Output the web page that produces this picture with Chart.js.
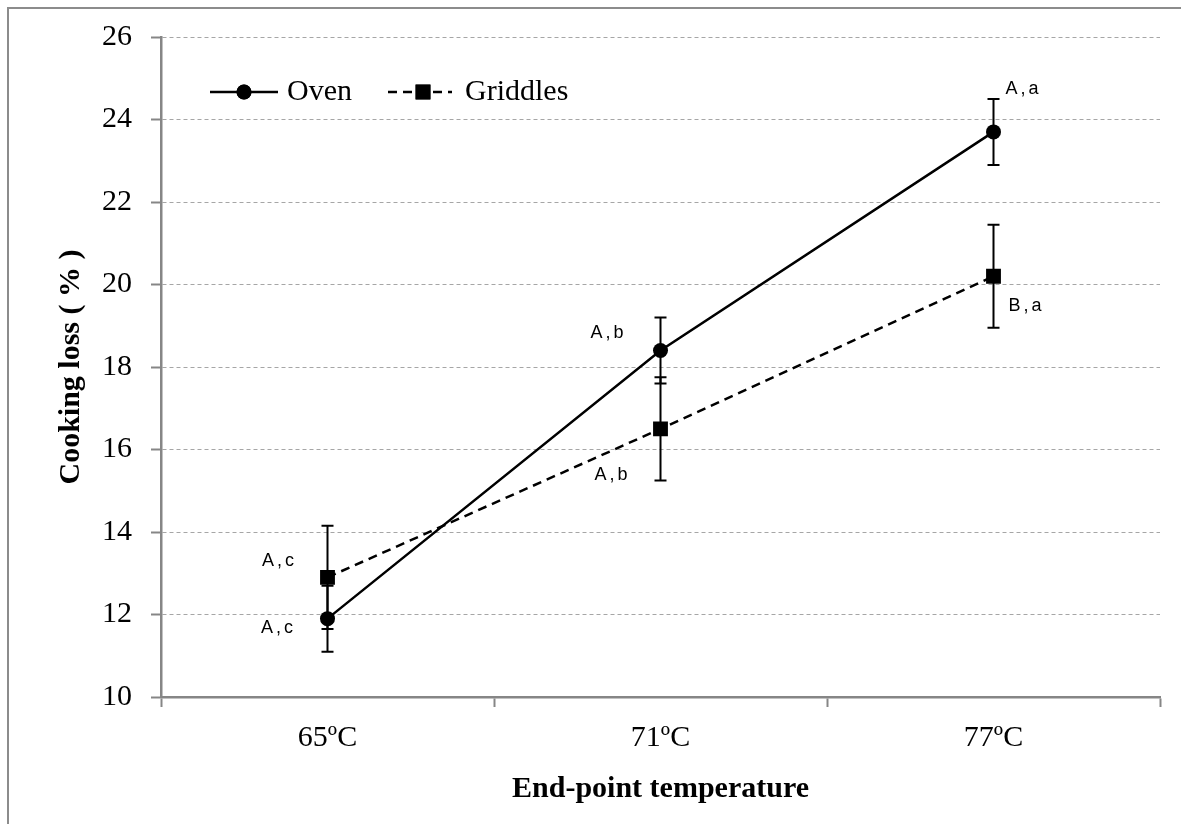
<!DOCTYPE html>
<html>
<head>
<meta charset="utf-8">
<script src="https://cdn.jsdelivr.net/npm/chart.js@4.4.1/dist/chart.umd.min.js"></script>
<style>
  body { margin: 0; background: #fff; }
  #wrap { width: 1181px; height: 824px; }
</style>
</head>
<body>
<div id="wrap"><canvas id="myChart" width="1181" height="824"></canvas></div>
<script>
// data
const temps = ['65ºC', '71ºC', '77ºC'];
const oven = [11.9, 18.4, 23.7];
const ovenErr = [0.8, 0.8, 0.8];
const ovenLetters = ['A,c', 'A,b', 'A,a'];
const griddles = [12.9, 16.5, 20.2];
const griddlesErr = [1.25, 1.25, 1.25];
const griddlesLetters = ['A,c', 'A,b', 'B,a'];
const yTicks = [10, 12, 14, 16, 18, 20, 22, 24, 26];

Chart.defaults.font.family = "'Liberation Serif', 'Times New Roman', serif";
Chart.defaults.color = '#000';

const axisGray = '#868686';

// frame round the whole picture
const framePlugin = {
  id: 'frame',
  beforeDraw(chart) {
    const ctx = chart.ctx;
    ctx.save();
    ctx.fillStyle = '#fff';
    ctx.fillRect(0, 0, chart.width, chart.height);
    ctx.strokeStyle = '#8c8c8c';
    ctx.lineWidth = 2;
    ctx.strokeRect(8, 8, chart.width + 20, chart.height + 20);
    ctx.restore();
  }
};

// error bars, drawn under the markers
const errorBars = {
  id: 'errorBars',
  beforeDatasetsDraw(chart) {
    const ctx = chart.ctx;
    const x = chart.scales.x, y = chart.scales.y;
    ctx.save();
    ctx.strokeStyle = '#000';
    ctx.lineWidth = 2;
    chart.data.datasets.forEach((ds) => {
      ds.data.forEach((v, i) => {
        const px = x.getPixelForValue(i);
        const top = y.getPixelForValue(v + ds.err[i]);
        const bot = y.getPixelForValue(v - ds.err[i]);
        ctx.beginPath();
        ctx.moveTo(px, top); ctx.lineTo(px, bot);
        ctx.moveTo(px - 6, top); ctx.lineTo(px + 6, top);
        ctx.moveTo(px - 6, bot); ctx.lineTo(px + 6, bot);
        ctx.stroke();
      });
    });
    ctx.restore();
  }
};

// significance letters beside each point
const letterLabels = {
  id: 'letterLabels',
  afterDatasetsDraw(chart, args, opts) {
    const ctx = chart.ctx;
    ctx.save();
    ctx.font = "18px 'Liberation Sans', Arial, sans-serif";
    ctx.fillStyle = '#000';
    ctx.textAlign = 'center';
    ctx.textBaseline = 'middle';
    if ('letterSpacing' in ctx) ctx.letterSpacing = '3px';
    chart.data.datasets.forEach((ds, d) => {
      const meta = chart.getDatasetMeta(d);
      meta.data.forEach((pt, i) => {
        const off = opts.offsets[d][i];
        ctx.fillText(ds.letters[i], pt.x + off[0], pt.y + off[1]);
      });
    });
    ctx.restore();
  }
};

// legend in the top left of the plot, line + marker like Excel
const insideLegend = {
  id: 'insideLegend',
  afterDraw(chart) {
    const ctx = chart.ctx;
    const items = [
      { x1: 210, x2: 278, mx: 244, tx: 287 },
      { x1: 388, x2: 452, mx: 423, tx: 465 }
    ];
    const yy = 92;
    ctx.save();
    chart.data.datasets.forEach((ds, d) => {
      const it = items[d];
      ctx.strokeStyle = '#000';
      ctx.lineWidth = 2.5;
      ctx.setLineDash(ds.borderDash || []);
      ctx.beginPath();
      ctx.moveTo(it.x1, yy); ctx.lineTo(it.x2, yy);
      ctx.stroke();
      ctx.setLineDash([]);
      Chart.helpers.drawPoint(ctx, { pointStyle: ds.pointStyle, radius: ds.pointRadius, borderWidth: 0 }, it.mx, yy);
      ctx.fillStyle = '#000';
      ctx.fill();
      ctx.font = "30px 'Liberation Serif', 'Times New Roman', serif";
      ctx.textAlign = 'left';
      ctx.textBaseline = 'middle';
      ctx.fillText(ds.label, it.tx, yy);
    });
    ctx.restore();
  }
};

const ctxChart = document.getElementById('myChart');

new Chart(ctxChart, {
  type: 'line',
  data: {
    labels: temps,
    datasets: [{
      label: 'Oven',
      data: oven,
      err: ovenErr,
      letters: ovenLetters,
      borderColor: '#000',
      borderWidth: 2.5,
      pointStyle: 'circle',
      pointRadius: 7.5,
      pointBackgroundColor: '#000',
      pointBorderWidth: 0,
      tension: 0
    }, {
      label: 'Griddles',
      data: griddles,
      err: griddlesErr,
      letters: griddlesLetters,
      borderColor: '#000',
      borderWidth: 2.5,
      borderDash: [9, 6],
      pointStyle: 'rect',
      pointRadius: 10.5,
      pointBackgroundColor: '#000',
      pointBorderWidth: 0,
      tension: 0
    }]
  },
  options: {
    responsive: false,
    animation: false,
    layout: { padding: { left: 10, right: 21, top: 37, bottom: 10 } },
    plugins: {
      legend: { display: false },
      tooltip: { enabled: false },
      letterLabels: {
        offsets: [
          [[-49, 9], [-52, -17], [30, -43]],
          [[-48, -16], [-48, 46], [33, 30]]
        ]
      }
    },
    scales: {
      x: {
        offset: true,
        grid: {
          offset: true,
          drawOnChartArea: false,
          tickLength: 10,
          tickColor: axisGray,
          tickWidth: 2
        },
        border: { color: axisGray, width: 2.5 },
        ticks: { font: { size: 30 }, padding: 13, maxRotation: 0 },
        title: {
          display: true,
          text: 'End-point temperature',
          font: { size: 30, weight: 'bold' },
          padding: { top: 0, bottom: 7 }
        },
        afterFit(scale) {
          scale.height = 117;
          scale.paddingLeft = 0;
          scale.paddingRight = 0;
        }
      },
      y: {
        min: yTicks[0],
        max: yTicks[yTicks.length - 1],
        ticks: { stepSize: 2, font: { size: 30 }, padding: 19 },
        afterBuildTicks(scale) {
          scale.ticks = yTicks.map(v => ({ value: v }));
        },
        grid: {
          color: '#a6a6a6',
          lineWidth: 1,
          tickLength: 10,
          tickColor: axisGray,
          tickWidth: 2,
          tickBorderDash: []
        },
        border: { color: axisGray, width: 2.5, dash: [4, 3] },
        title: {
          display: true,
          text: 'Cooking loss ( % )',
          font: { size: 30, weight: 'bold' },
          padding: { top: 43, bottom: 0 }
        },
        afterFit(scale) {
          scale.width = 151;
          scale.paddingTop = 0;
          scale.paddingBottom = 0;
        }
      }
    }
  },
  plugins: [framePlugin, errorBars, letterLabels, insideLegend]
});
</script>
</body>
</html>
